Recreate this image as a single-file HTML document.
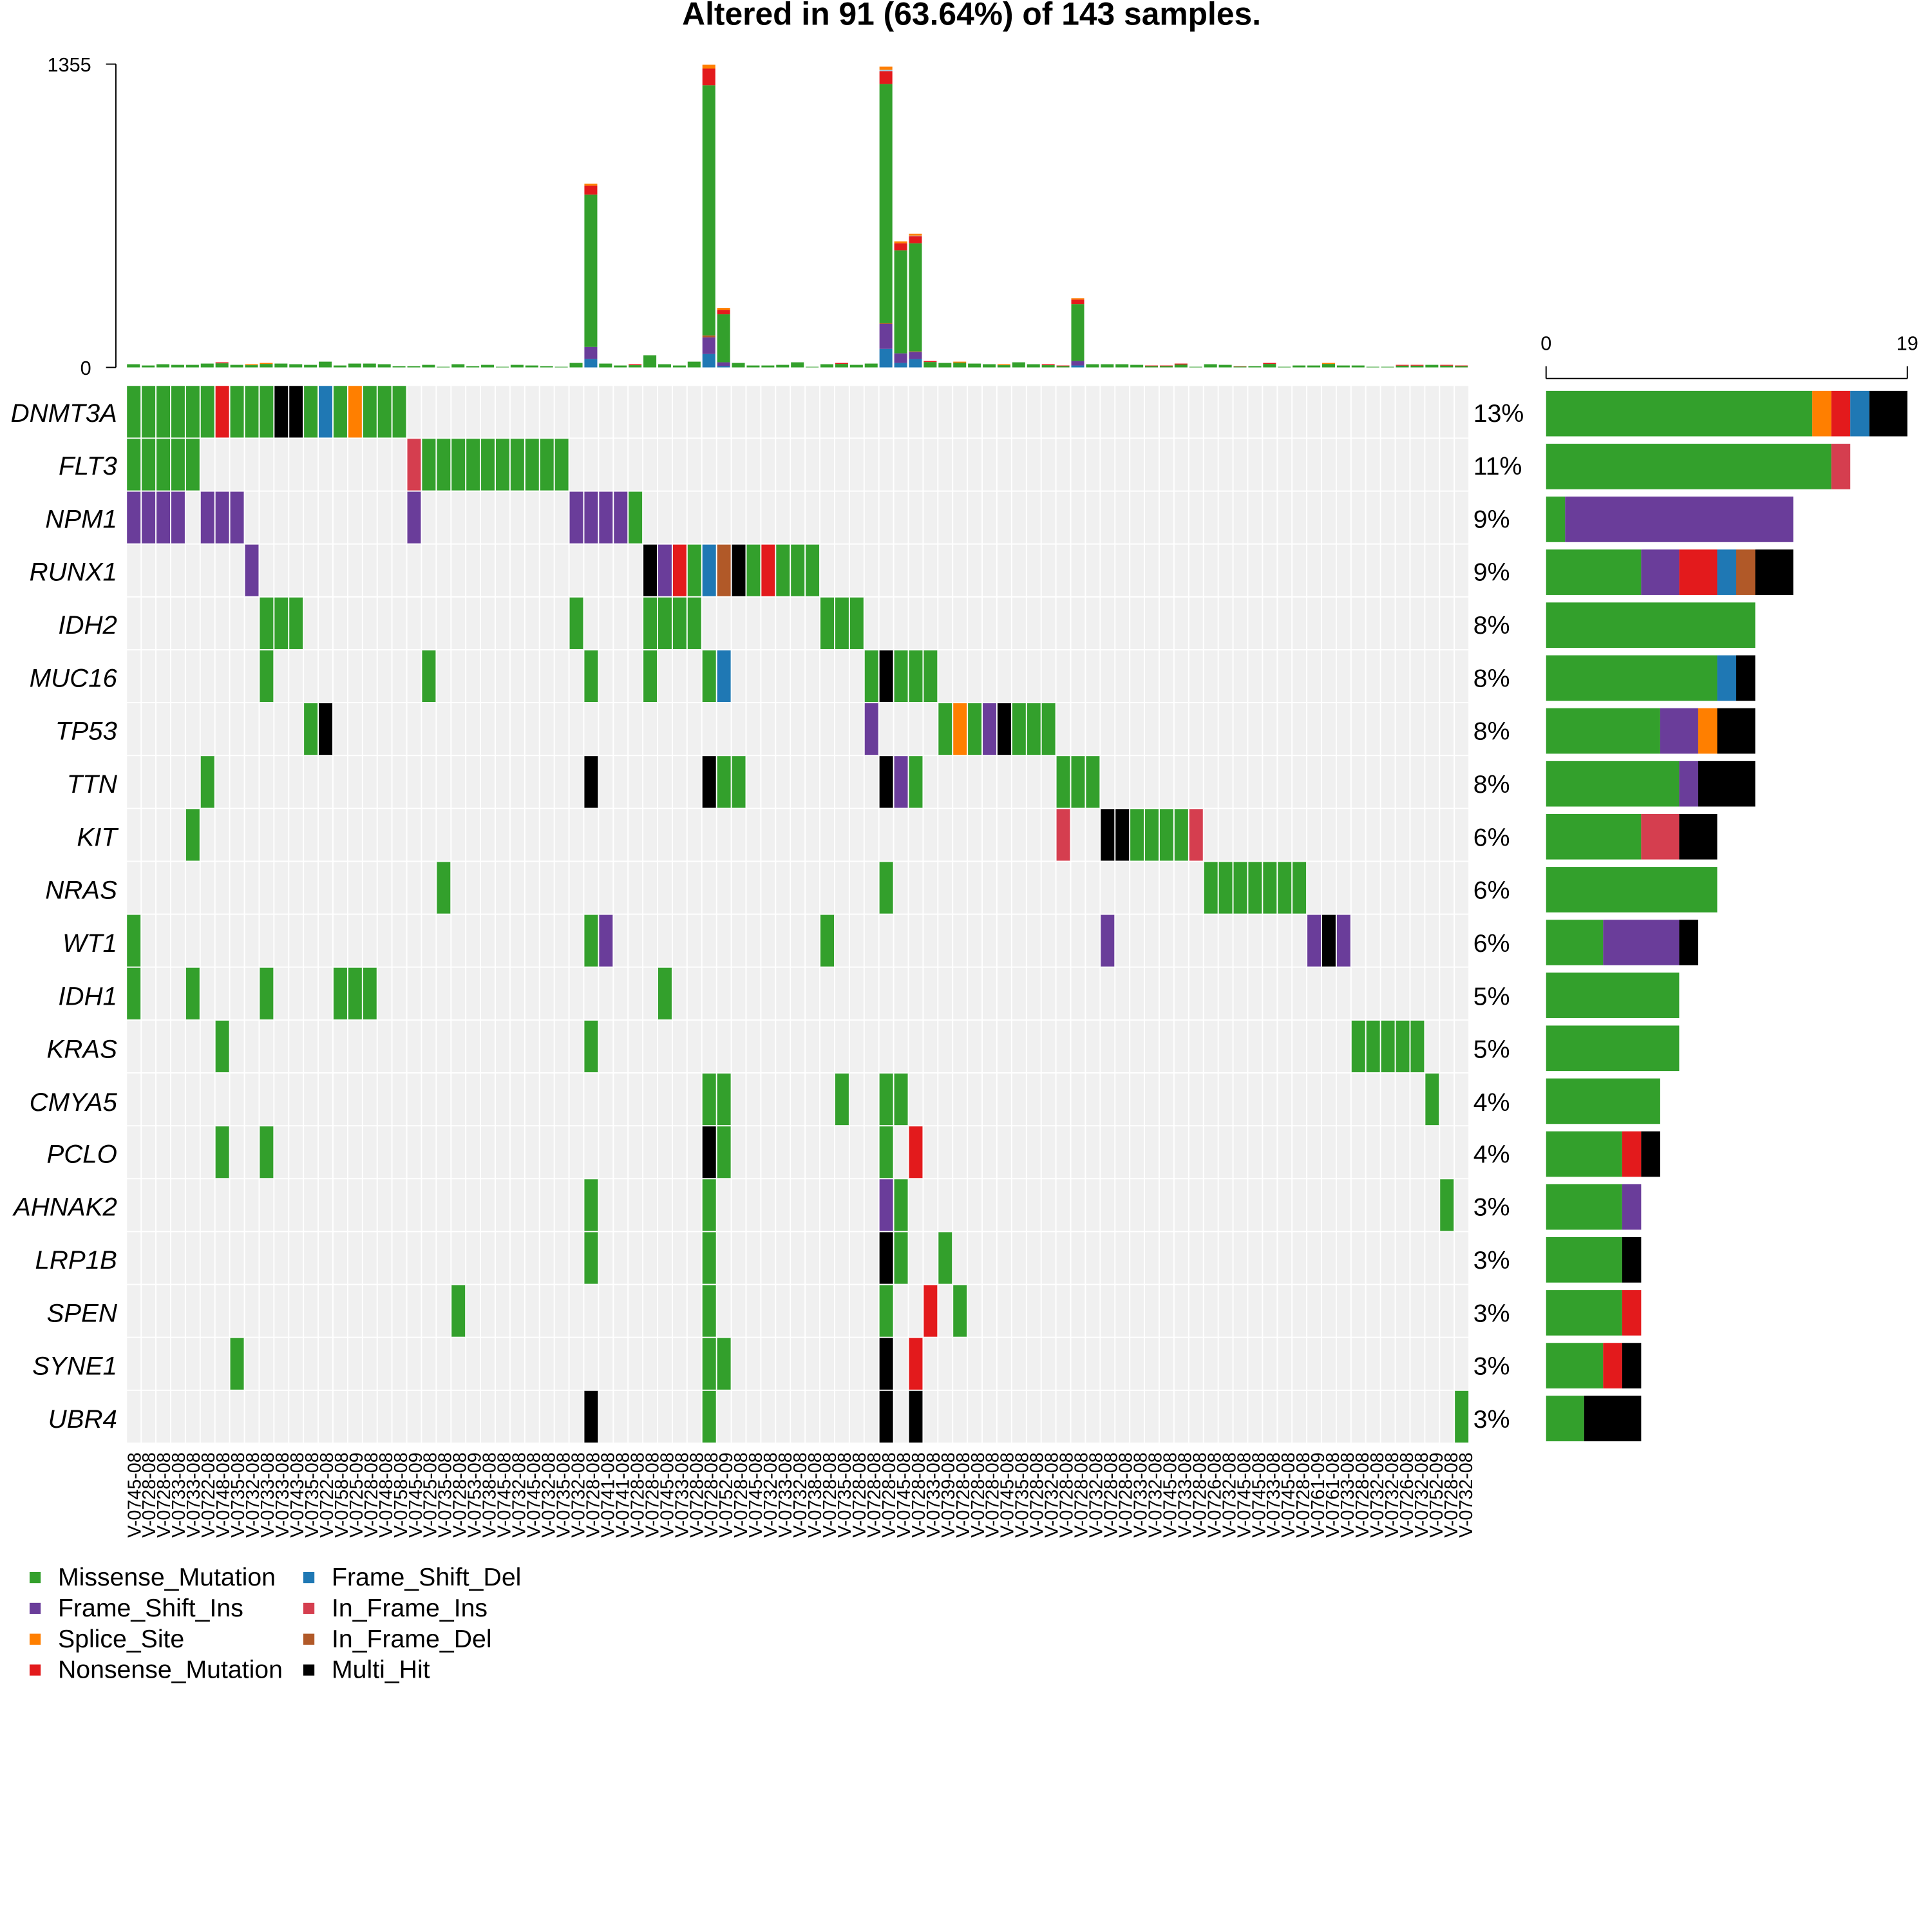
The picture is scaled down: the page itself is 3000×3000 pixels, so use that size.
<!DOCTYPE html>
<html><head><meta charset="utf-8"><style>
html,body{margin:0;padding:0;background:#fff;}
svg{display:block;}
text{font-family:"Liberation Sans",sans-serif;}
</style></head><body>
<svg id="s" width="3000" height="3000" viewBox="0 0 1567 1567" xmlns="http://www.w3.org/2000/svg">
<rect x="0" y="0" width="1567" height="1567" fill="#fff"/>
<g id="cells"></g>
<g id="tops"></g>
<g id="rbars"></g>
<text x="788" y="20" font-size="26" font-weight="bold" text-anchor="middle">Altered in 91 (63.64%) of 143 samples.</text>
<line x1="94" y1="52" x2="94" y2="298" stroke="#000" stroke-width="1"/>
<line x1="86" y1="52" x2="94" y2="52" stroke="#000"/>
<line x1="86" y1="298" x2="94" y2="298" stroke="#000"/>
<text x="74" y="58" font-size="16" text-anchor="end">1355</text>
<text x="74" y="304" font-size="16" text-anchor="end">0</text>
<line x1="1254" y1="307" x2="1547" y2="307" stroke="#000"/>
<line x1="1254" y1="297" x2="1254" y2="307" stroke="#000"/>
<line x1="1547" y1="297" x2="1547" y2="307" stroke="#000"/>
<text x="1254" y="284" font-size="16" text-anchor="middle">0</text>
<text x="1547" y="284" font-size="16" text-anchor="middle">19</text>
<g font-size="21" font-style="italic" text-anchor="end">
<text x="95" y="342">DNMT3A</text><text x="95" y="385">FLT3</text><text x="95" y="428">NPM1</text><text x="95" y="471">RUNX1</text><text x="95" y="514">IDH2</text><text x="95" y="557">MUC16</text><text x="95" y="600">TP53</text><text x="95" y="643">TTN</text><text x="95" y="686">KIT</text><text x="95" y="729">NRAS</text><text x="95" y="772">WT1</text><text x="95" y="815">IDH1</text><text x="95" y="858">KRAS</text><text x="95" y="901">CMYA5</text><text x="95" y="943">PCLO</text><text x="95" y="986">AHNAK2</text><text x="95" y="1029">LRP1B</text><text x="95" y="1072">SPEN</text><text x="95" y="1115">SYNE1</text><text x="95" y="1158">UBR4</text>
</g>
<g font-size="20.5">
<text x="1195" y="342">13%</text><text x="1195" y="385">11%</text><text x="1195" y="428">9%</text><text x="1195" y="471">9%</text><text x="1195" y="514">8%</text><text x="1195" y="557">8%</text><text x="1195" y="600">8%</text><text x="1195" y="643">8%</text><text x="1195" y="686">6%</text><text x="1195" y="729">6%</text><text x="1195" y="772">6%</text><text x="1195" y="815">5%</text><text x="1195" y="858">5%</text><text x="1195" y="901">4%</text><text x="1195" y="943">4%</text><text x="1195" y="986">3%</text><text x="1195" y="1029">3%</text><text x="1195" y="1072">3%</text><text x="1195" y="1115">3%</text><text x="1195" y="1158">3%</text>
</g>
<g font-size="15" text-anchor="end">
<text transform="translate(114,1178) rotate(-90)">V-0745-08</text><text transform="translate(126,1178) rotate(-90)">V-0728-08</text><text transform="translate(138,1178) rotate(-90)">V-0728-08</text><text transform="translate(150,1178) rotate(-90)">V-0733-08</text><text transform="translate(162,1178) rotate(-90)">V-0733-08</text><text transform="translate(174,1178) rotate(-90)">V-0722-08</text><text transform="translate(186,1178) rotate(-90)">V-0748-08</text><text transform="translate(198,1178) rotate(-90)">V-0735-08</text><text transform="translate(210,1178) rotate(-90)">V-0732-08</text><text transform="translate(222,1178) rotate(-90)">V-0733-08</text><text transform="translate(234,1178) rotate(-90)">V-0733-08</text><text transform="translate(246,1178) rotate(-90)">V-0743-08</text><text transform="translate(258,1178) rotate(-90)">V-0735-08</text><text transform="translate(270,1178) rotate(-90)">V-0722-08</text><text transform="translate(282,1178) rotate(-90)">V-0758-08</text><text transform="translate(294,1178) rotate(-90)">V-0725-09</text><text transform="translate(306,1178) rotate(-90)">V-0728-08</text><text transform="translate(318,1178) rotate(-90)">V-0748-08</text><text transform="translate(330,1178) rotate(-90)">V-0758-08</text><text transform="translate(342,1178) rotate(-90)">V-0745-09</text><text transform="translate(354,1178) rotate(-90)">V-0725-08</text><text transform="translate(366,1178) rotate(-90)">V-0735-08</text><text transform="translate(378,1178) rotate(-90)">V-0728-08</text><text transform="translate(390,1178) rotate(-90)">V-0753-09</text><text transform="translate(402,1178) rotate(-90)">V-0738-08</text><text transform="translate(414,1178) rotate(-90)">V-0745-08</text><text transform="translate(426,1178) rotate(-90)">V-0732-08</text><text transform="translate(438,1178) rotate(-90)">V-0745-08</text><text transform="translate(450,1178) rotate(-90)">V-0732-08</text><text transform="translate(462,1178) rotate(-90)">V-0735-08</text><text transform="translate(474,1178) rotate(-90)">V-0732-08</text><text transform="translate(486,1178) rotate(-90)">V-0728-08</text><text transform="translate(498,1178) rotate(-90)">V-0741-08</text><text transform="translate(510,1178) rotate(-90)">V-0741-08</text><text transform="translate(522,1178) rotate(-90)">V-0728-08</text><text transform="translate(534,1178) rotate(-90)">V-0728-08</text><text transform="translate(546,1178) rotate(-90)">V-0745-08</text><text transform="translate(558,1178) rotate(-90)">V-0733-08</text><text transform="translate(570,1178) rotate(-90)">V-0728-08</text><text transform="translate(582,1178) rotate(-90)">V-0728-08</text><text transform="translate(594,1178) rotate(-90)">V-0752-09</text><text transform="translate(606,1178) rotate(-90)">V-0728-08</text><text transform="translate(618,1178) rotate(-90)">V-0745-08</text><text transform="translate(630,1178) rotate(-90)">V-0732-08</text><text transform="translate(642,1178) rotate(-90)">V-0733-08</text><text transform="translate(654,1178) rotate(-90)">V-0732-08</text><text transform="translate(666,1178) rotate(-90)">V-0738-08</text><text transform="translate(678,1178) rotate(-90)">V-0728-08</text><text transform="translate(690,1178) rotate(-90)">V-0735-08</text><text transform="translate(702,1178) rotate(-90)">V-0728-08</text><text transform="translate(714,1178) rotate(-90)">V-0728-08</text><text transform="translate(726,1178) rotate(-90)">V-0728-08</text><text transform="translate(738,1178) rotate(-90)">V-0745-08</text><text transform="translate(750,1178) rotate(-90)">V-0728-08</text><text transform="translate(762,1178) rotate(-90)">V-0733-08</text><text transform="translate(774,1178) rotate(-90)">V-0739-08</text><text transform="translate(786,1178) rotate(-90)">V-0728-08</text><text transform="translate(798,1178) rotate(-90)">V-0728-08</text><text transform="translate(810,1178) rotate(-90)">V-0728-08</text><text transform="translate(822,1178) rotate(-90)">V-0745-08</text><text transform="translate(834,1178) rotate(-90)">V-0735-08</text><text transform="translate(846,1178) rotate(-90)">V-0728-08</text><text transform="translate(858,1178) rotate(-90)">V-0732-08</text><text transform="translate(870,1178) rotate(-90)">V-0728-08</text><text transform="translate(882,1178) rotate(-90)">V-0728-08</text><text transform="translate(894,1178) rotate(-90)">V-0732-08</text><text transform="translate(906,1178) rotate(-90)">V-0728-08</text><text transform="translate(918,1178) rotate(-90)">V-0728-08</text><text transform="translate(930,1178) rotate(-90)">V-0733-08</text><text transform="translate(942,1178) rotate(-90)">V-0732-08</text><text transform="translate(954,1178) rotate(-90)">V-0745-08</text><text transform="translate(966,1178) rotate(-90)">V-0733-08</text><text transform="translate(978,1178) rotate(-90)">V-0728-08</text><text transform="translate(990,1178) rotate(-90)">V-0726-08</text><text transform="translate(1002,1178) rotate(-90)">V-0732-08</text><text transform="translate(1014,1178) rotate(-90)">V-0745-08</text><text transform="translate(1026,1178) rotate(-90)">V-0745-08</text><text transform="translate(1038,1178) rotate(-90)">V-0733-08</text><text transform="translate(1050,1178) rotate(-90)">V-0745-08</text><text transform="translate(1062,1178) rotate(-90)">V-0728-08</text><text transform="translate(1074,1178) rotate(-90)">V-0761-09</text><text transform="translate(1086,1178) rotate(-90)">V-0761-08</text><text transform="translate(1098,1178) rotate(-90)">V-0733-08</text><text transform="translate(1110,1178) rotate(-90)">V-0728-08</text><text transform="translate(1122,1178) rotate(-90)">V-0732-08</text><text transform="translate(1134,1178) rotate(-90)">V-0732-08</text><text transform="translate(1146,1178) rotate(-90)">V-0726-08</text><text transform="translate(1158,1178) rotate(-90)">V-0732-08</text><text transform="translate(1170,1178) rotate(-90)">V-0752-09</text><text transform="translate(1182,1178) rotate(-90)">V-0728-08</text><text transform="translate(1194,1178) rotate(-90)">V-0732-08</text>
</g>
<g font-size="20.5">
<rect x="24" y="1275" width="9" height="9" fill="#33A02C"/><text x="47" y="1286">Missense_Mutation</text>
<rect x="24" y="1300" width="9" height="9" fill="#6A3D9A"/><text x="47" y="1311">Frame_Shift_Ins</text>
<rect x="24" y="1325" width="9" height="9" fill="#FF7F00"/><text x="47" y="1336">Splice_Site</text>
<rect x="24" y="1350" width="9" height="9" fill="#E31A1C"/><text x="47" y="1361">Nonsense_Mutation</text>
<rect x="246" y="1275" width="9" height="9" fill="#1F78B4"/><text x="269" y="1286">Frame_Shift_Del</text>
<rect x="246" y="1300" width="9" height="9" fill="#D53E4F"/><text x="269" y="1311">In_Frame_Ins</text>
<rect x="246" y="1325" width="9" height="9" fill="#B15928"/><text x="269" y="1336">In_Frame_Del</text>
<rect x="246" y="1350" width="9" height="9" fill="#000000"/><text x="269" y="1361">Multi_Hit</text>
</g>
</svg>
<script>
(function(){
var NS="http://www.w3.org/2000/svg";
var C={M:"#33A02C",I:"#6A3D9A",S:"#FF7F00",N:"#E31A1C",D:"#1F78B4",A:"#D53E4F",E:"#B15928",X:"#000000",L:"#A6CEE3"};
function R(g,x,y,w,h,f){var r=document.createElementNS(NS,"rect");r.setAttribute("x",x);r.setAttribute("y",y);r.setAttribute("width",w);r.setAttribute("height",h);r.setAttribute("fill",f);g.appendChild(r);}
function rng(a,b,t){var o=[];for(var i=a;i<=b;i++)o.push([i,t]);return o;}
var G=[
[].concat(rng(0,5,"M"),[[6,"N"]],rng(7,9,"M"),[[10,"X"],[11,"X"],[12,"M"],[13,"D"],[14,"M"],[15,"S"]],rng(16,18,"M")),
[].concat(rng(0,4,"M"),[[19,"A"]],rng(20,29,"M")),
[].concat(rng(0,3,"I"),rng(5,7,"I"),[[19,"I"]],rng(30,33,"I"),[[34,"M"]]),
[[8,"I"],[35,"X"],[36,"I"],[37,"N"],[38,"M"],[39,"D"],[40,"E"],[41,"X"],[42,"M"],[43,"N"],[44,"M"],[45,"M"],[46,"M"]],
[].concat(rng(9,11,"M"),[[30,"M"]],rng(35,38,"M"),rng(47,49,"M")),
[[9,"M"],[20,"M"],[31,"M"],[35,"M"],[39,"M"],[40,"D"],[50,"M"],[51,"X"],[52,"M"],[53,"M"],[54,"M"]],
[[12,"M"],[13,"X"],[50,"I"],[55,"M"],[56,"S"],[57,"M"],[58,"I"],[59,"X"],[60,"M"],[61,"M"],[62,"M"]],
[[5,"M"],[31,"X"],[39,"X"],[40,"M"],[41,"M"],[51,"X"],[52,"I"],[53,"M"],[63,"M"],[64,"M"],[65,"M"]],
[[4,"M"],[63,"A"],[66,"X"],[67,"X"],[68,"M"],[69,"M"],[70,"M"],[71,"M"],[72,"A"]],
[].concat([[21,"M"],[51,"M"]],rng(73,79,"M")),
[[0,"M"],[31,"M"],[32,"I"],[47,"M"],[66,"I"],[80,"I"],[81,"X"],[82,"I"]],
[[0,"M"],[4,"M"],[9,"M"],[14,"M"],[15,"M"],[16,"M"],[36,"M"]],
[].concat([[6,"M"],[31,"M"]],rng(83,87,"M")),
[[39,"M"],[40,"M"],[48,"M"],[51,"M"],[52,"M"],[88,"M"]],
[[6,"M"],[9,"M"],[39,"X"],[40,"M"],[51,"M"],[53,"N"]],
[[31,"M"],[39,"M"],[51,"I"],[52,"M"],[89,"M"]],
[[31,"M"],[39,"M"],[51,"X"],[52,"M"],[55,"M"]],
[[22,"M"],[39,"M"],[51,"M"],[54,"N"],[56,"M"]],
[[7,"M"],[39,"M"],[40,"M"],[51,"X"],[53,"N"]],
[[31,"X"],[39,"M"],[51,"X"],[53,"X"],[90,"M"]]
];
var x0=103,cw=(1192-103)/91,y0=313,rh=(1171-313)/20;
var cg=document.getElementById("cells");
for(var r=0;r<20;r++){var m={};G[r].forEach(function(e){m[e[0]]=e[1];});
 for(var c=0;c<91;c++){R(cg,x0+c*cw,y0+r*rh,cw-1,rh-1,m[c]?C[m[c]]:"#F0F0F0");}}
var rb=document.getElementById("rbars"),u=293/19,ord=["M","I","S","N","D","A","E","X"];
for(var r=0;r<20;r++){var cnt={};G[r].forEach(function(e){cnt[e[1]]=(cnt[e[1]]||0)+1;});
 var x=1254;ord.forEach(function(t){if(cnt[t]){R(rb,x,y0+r*rh+4,cnt[t]*u,rh-6,C[t]);x+=cnt[t]*u;}});}
var k=0.173;
var small=[15,9,15,12,12,18,24,12,15,21,18,15,12,27,9,18,18,15,6,6,12,3,15,6,12,3,12,9,6,3,21,0,18,9,15,57,15,9,27,0,0,21,9,9,12,24,3,15,21,12,18,0,0,0,30,21,27,18,15,15,24,15,15,9,0,15,15,15,12,9,9,18,3,15,12,6,6,21,3,9,9,21,9,9,3,3,12,12,12,12,9];
var topc={6:"N",8:"S",9:"S",34:"N",48:"N",54:"N",56:"S",59:"S",62:"N",63:"N",69:"N",70:"N",71:"N",75:"N",77:"N",81:"S",86:"N",87:"N",89:"N",90:"N"};
var big={
31:[["D",40],["I",56],["M",714],["N",42],["S",9]],
39:[["D",63],["I",78],["E",9],["M",1173],["N",78],["S",18]],
40:[["D",6],["I",18],["M",225],["N",21],["S",9]],
51:[["D",87],["I",117],["E",3],["M",1122],["N",60],["L",6],["S",15]],
52:[["D",21],["I",45],["M",483],["N",33],["S",9]],
53:[["D",39],["I",33],["E",3],["M",507],["N",33],["L",3],["S",9]],
64:[["D",9],["I",21],["M",267],["N",21],["S",6]]
};
var tg=document.getElementById("tops");
for(var c=0;c<91;c++){var y=298,x=x0+c*cw,w=cw-1.5;
 if(big[c]){big[c].forEach(function(s){var h=s[1]*k;y-=h;R(tg,x,y,w,h,C[s[0]]);});}
 else{var h=small[c]*k;if(h<=0)continue;
  if(topc[c]){var h2=Math.min(0.8,h*0.3);R(tg,x,y-h+h2,w,h-h2,C.M);R(tg,x,y-h,w,h2,C[topc[c]]);}
  else R(tg,x,y-h,w,h,C.M);}}
})();
</script>
</body></html>
